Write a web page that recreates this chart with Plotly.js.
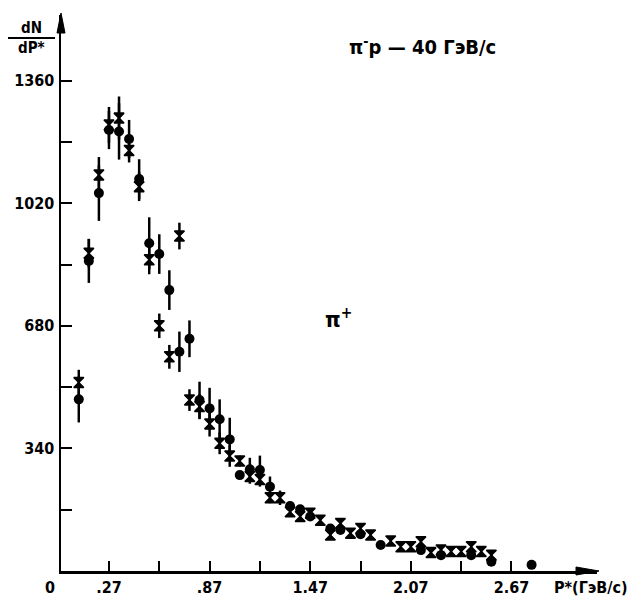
<!DOCTYPE html>
<html>
<head>
<meta charset="utf-8">
<script src="https://cdn.plot.ly/plotly-3.0.1.min.js"></script>
<style>html,body{margin:0;padding:0;background:#fff;}#chart{width:630px;height:603px;}</style>
</head>
<body>
<div id="chart"></div>
<script>
// Momentum bins P* (GeV/c)
const pStar = [0.09,0.15,0.21,0.27,0.33,0.39,0.45,0.51,0.57,0.63,0.69,0.75,0.81,0.87,0.93,0.99,1.05,1.11,1.17,1.23,1.29,1.35,1.41,1.47,1.53,1.59,1.65,1.71,1.77,1.83,1.89,1.95,2.01,2.07,2.13,2.19,2.25,2.31,2.37,2.43,2.49,2.55,2.79];
// Series shown with filled circles
const circleN   = [476,860,1048,1223,1219,1198,1087,909,879,779,608,644,474,451,421,365,266,282,280,234,null,180,171,151,null,118,114,null,102,null,72,null,null,null,58,null,44,null,null,44,null,26,17];
const circleErr = [64,61,77,53,78,53,55,72,55,55,56,51,51,57,55,60,10,32,40,28,0,12,12,12,0,10,10,0,8,0,6,0,0,0,6,0,6,0,0,6,0,5,5];
// Series shown with crosses
const crossN   = [523,881,1098,1237,1256,1166,1066,863,680,594,929,474,456,408,354,319,305,262,254,203,203,164,151,160,141,100,132,105,118,100,null,83,67,67,81,51,58,54,54,67,54,44,null];
const crossErr = [35,40,50,50,60,33,40,40,34,33,37,30,35,35,30,30,15,20,20,15,20,12,12,12,12,10,10,10,8,8,0,6,6,6,6,6,6,6,6,6,6,6,0];
// Axis ticks
const xTickVals = [0.27,0.57,0.87,1.17,1.47,1.77,2.07,2.37,2.67];
const xTickText = ['.27','','.87','','1.47','','2.07','','2.67'];
const yTickVals = [170,340,510,680,850,1020,1190,1360];
const yTickText = ['','340','','680','','1020','','1360'];

const FONT = '"DejaVu Sans Condensed", "DejaVu Sans", sans-serif';
const XR = [-0.016, 3.18], YR = [0, 1542];
const L = 61, R = 33, T = 15, B = 32, W = 630, H = 603;
const pw = W - L - R, ph = H - T - B;
const px = v => (v - L) / pw;           // pixel -> paper x
const py = v => (H - B - v) / ph;       // pixel -> paper y

const traces = [
  {x: pStar, y: circleN, type: 'scatter', mode: 'markers', name: 'circles',
   marker: {symbol: 'circle', size: 10, color: '#000'},
   error_y: {type: 'data', array: circleErr, visible: true, color: '#000', thickness: 2.5, width: 0}},
  {x: pStar, y: crossN, type: 'scatter', mode: 'markers', name: 'crosses',
   marker: {symbol: 'hourglass', size: 10, color: '#000', line: {color: '#000', width: 1.5}},
   error_y: {type: 'data', array: crossErr, visible: true, color: '#000', thickness: 2.5, width: 0}}
];

const txt = (text, x, y, size, extra) => Object.assign({
  text: text, xref: 'paper', yref: 'paper', x: px(x), y: py(y), showarrow: false,
  xanchor: 'center', yanchor: 'middle',
  font: {family: FONT, size: size, color: '#000', weight: 'bold'}
}, extra || {});

const layout = {
  width: W, height: H, showlegend: false,
  paper_bgcolor: '#fff', plot_bgcolor: '#fff',
  margin: {l: L, r: R, t: T, b: B, pad: 0},
  xaxis: {range: XR, showgrid: false, zeroline: false, showline: true, linecolor: '#000', linewidth: 2.5,
          tickmode: 'array', tickvals: xTickVals, ticktext: xTickText, ticks: 'inside', ticklen: 10,
          tickwidth: 2, tickcolor: '#000', tickfont: {family: FONT, size: 16, color: '#000', weight: 'bold'}},
  yaxis: {range: YR, showgrid: false, zeroline: false, showline: true, linecolor: '#000', linewidth: 2.5,
          tickmode: 'array', tickvals: yTickVals, ticktext: yTickText, ticks: 'inside', ticklen: 11,
          tickwidth: 2, tickcolor: '#000', ticklabelstandoff: 1,
          tickfont: {family: FONT, size: 16, color: '#000', weight: 'bold'}},
  shapes: [
    {type: 'line', xref: 'paper', yref: 'paper', x0: px(8), x1: px(55), y0: py(38), y1: py(38),
     line: {color: '#000', width: 2}},
    {type: 'path', xref: 'paper', yref: 'paper',
     path: `M ${px(61)} ${py(13)} L ${px(57)} ${py(33)} L ${px(65)} ${py(33)} Z`,
     fillcolor: '#000', line: {color: '#000', width: 1}},
    {type: 'path', xref: 'paper', yref: 'paper',
     path: `M ${px(599)} ${py(571)} L ${px(576)} ${py(567)} L ${px(576)} ${py(575)} Z`,
     fillcolor: '#000', line: {color: '#000', width: 1}}
  ],
  annotations: [
    txt('dN', 31, 28, 15),
    txt('dP*', 31, 48, 15),
    txt('π<sup>-</sup>p — 40 ГэВ/c', 422, 46, 20),
    txt('π<sup>+</sup>', 338, 318, 22),
    txt('P*(ГэВ/c)', 591, 587, 16),
    txt('0', 50, 587, 16)
  ]
};

Plotly.newPlot('chart', traces, layout, {staticPlot: true, displayModeBar: false});
</script>
</body>
</html>
